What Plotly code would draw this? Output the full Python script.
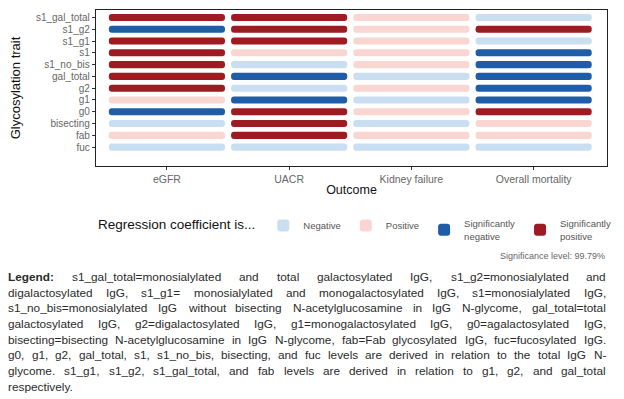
import plotly.graph_objects as go

# glycosylation traits, top to bottom as in the figure
traits = ["s1_gal_total", "s1_g2", "s1_g1", "s1", "s1_no_bis", "gal_total",
          "g2", "g1", "g0", "bisecting", "fab", "fuc"]
outcomes = ["eGFR", "UACR", "Kidney failure", "Overall mortality"]

# N = negative, P = positive, SN = significantly negative, SP = significantly positive
egfr = ["SP", "SN", "SP", "SP", "SP", "SP", "SP", "P", "SN", "N", "P", "N"]
uacr = ["SP", "SP", "SP", "P", "N", "SN", "N", "SN", "SP", "SP", "SP", "N"]
kidney_failure = ["P", "P", "P", "P", "P", "N", "P", "N", "P", "N", "P", "N"]
overall_mortality = ["N", "SP", "N", "SN", "SN", "SN", "SN", "SN", "SP", "P", "P", "N"]
columns = [egfr, uacr, kidney_failure, overall_mortality]

codes = ["N", "P", "SN", "SP"]
code_names = ["Negative", "Positive", "Significantly<br>negative", "Significantly<br>positive"]
code_colors = ["#C9DEF1", "#F9D6D2", "#1F5DA8", "#9E1B22"]

caption_lines = [
    "<b>Legend:</b> s1_gal_total=monosialylated and total galactosylated IgG, s1_g2=monosialylated and",
    "digalactosylated IgG, s1_g1= monosialylated and monogalactosylated IgG, s1=monosialylated IgG,",
    "s1_no_bis=monosialylated IgG without bisecting N-acetylglucosamine in IgG N-glycome, gal_total=total",
    "galactosylated IgG, g2=digalactosylated IgG, g1=monogalactosylated IgG, g0=agalactosylated IgG,",
    "bisecting=bisecting N-acetylglucosamine in IgG N-glycome, fab=Fab glycosylated IgG, fuc=fucosylated IgG.",
    "g0, g1, g2, gal_total, s1, s1_no_bis, bisecting, and fuc levels are derived in relation to the total IgG N-",
    "glycome. s1_g1, s1_g2, s1_gal_total, and fab levels are derived in relation to g1, g2, and gal_total",
    "respectively.",
]

W, H = 624, 399
ML, MR, MT, MB = 96, 17, 10, 233
PW, PH = W - ML - MR, H - MT - MB


def px_x(px):
    return (px - ML) / PW


def px_y(py):
    return (H - MB - py) / PH


# Arial / Liberation Sans advance widths (1/1000 em), used to justify the caption
ARIAL = dict(zip("abcdefghijklmnopqrstuvwxyz",
                 [556, 556, 500, 556, 556, 278, 556, 556, 222, 222, 500, 222, 833,
                  556, 556, 556, 556, 333, 500, 278, 556, 500, 722, 500, 500, 500]))
ARIAL.update({"F": 611, "G": 778, "I": 278, "L": 556, "N": 722, "0": 556, "1": 556,
              "2": 556, "_": 556, "=": 584, ",": 278, ".": 278, ":": 278, "-": 333, " ": 278})
ARIAL_BOLD = {"L": 611, "e": 556, "g": 611, "n": 611, "d": 611, ":": 333}


def text_width(word, size):
    if word.startswith("<b>"):
        w = word.replace("<b>", "").replace("</b>", "")
        return sum(ARIAL_BOLD.get(c, 611) for c in w) * size / 1000
    return sum(ARIAL.get(c, 556) for c in word) * size / 1000


fig = go.Figure()
for code, name, color in zip(codes, code_names, code_colors):
    ys, xs, bases = [], [], []
    for j, col in enumerate(columns):
        for trait, c in zip(traits, col):
            if c == code:
                ys.append(trait)
                xs.append(0.95)
                bases.append(j - 0.475)
    fig.add_trace(go.Bar(
        y=ys, x=xs, base=bases, orientation="h", name=name, width=0.6,
        marker=dict(color=color, line_width=0, cornerradius=3),
        hoverinfo="y+name",
    ))

fig.update_layout(
    width=W, height=H, barmode="overlay",
    margin=dict(l=ML, r=MR, t=MT, b=MB),
    plot_bgcolor="white", paper_bgcolor="white",
    font=dict(family="Liberation Sans, Arial, sans-serif", color="#222"),
    legend=dict(
        orientation="h", x=-0.0, xanchor="left", y=px_y(230), yanchor="middle",
        title=dict(text="Regression coefficient is...", font=dict(size=13.5, color="#111"), side="left"),
        font=dict(size=9.5, color="#555"), itemwidth=30, traceorder="normal",
    ),
)
fig.update_xaxes(
    range=[-0.58, 3.6], tickvals=list(range(len(outcomes))), ticktext=outcomes,
    showgrid=False, zeroline=False, ticks="outside", ticklen=3, tickcolor="#333",
    tickfont=dict(size=10.5, color="#666"),
    showline=True, mirror=True, linecolor="#222", linewidth=1.3,
    title=dict(text="Outcome", font=dict(size=12.5, color="#111"), standoff=1),
)
fig.update_yaxes(
    categoryorder="array", categoryarray=traits[::-1], range=[-1.6, 11.63],
    tickmode="array", tickvals=traits,
    showgrid=False, zeroline=False, ticks="outside", ticklen=3, tickcolor="#333",
    tickfont=dict(size=10, color="#666"),
    showline=True, mirror=True, linecolor="#222", linewidth=1.3,
    title=dict(text="Glycosylation trait", font=dict(size=13, color="#111"), standoff=12),
)

fig.add_annotation(
    text="Significance level: 99.79%", x=1, xref="paper", y=px_y(256), yref="paper",
    xanchor="right", yanchor="middle", showarrow=False,
    font=dict(size=9, color="#666"),
)

# justified caption: each word placed across the full text width
cap_size, left, right = 11.8, 8, 606
for i, line in enumerate(caption_lines):
    words = line.split(" ")
    widths = [text_width(w, cap_size) for w in words]
    if i < len(caption_lines) - 1:
        gap = (right - left - sum(widths)) / (len(words) - 1)
    else:
        gap = text_width(" ", cap_size)
    x = left
    for w, ww in zip(words, widths):
        fig.add_annotation(
            text=w, x=px_x(x), xref="paper", y=px_y(277 + i * 15.7), yref="paper",
            xanchor="left", yanchor="middle", showarrow=False, borderpad=0, borderwidth=0,
            font=dict(size=cap_size, color="#2a2a2a"),
        )
        x += ww + gap

# drop the default page margin so the figure sits at the window's corner
fig.write_html("out.html", config={"displayModeBar": False},
               post_script="document.body.style.margin = '0';")
